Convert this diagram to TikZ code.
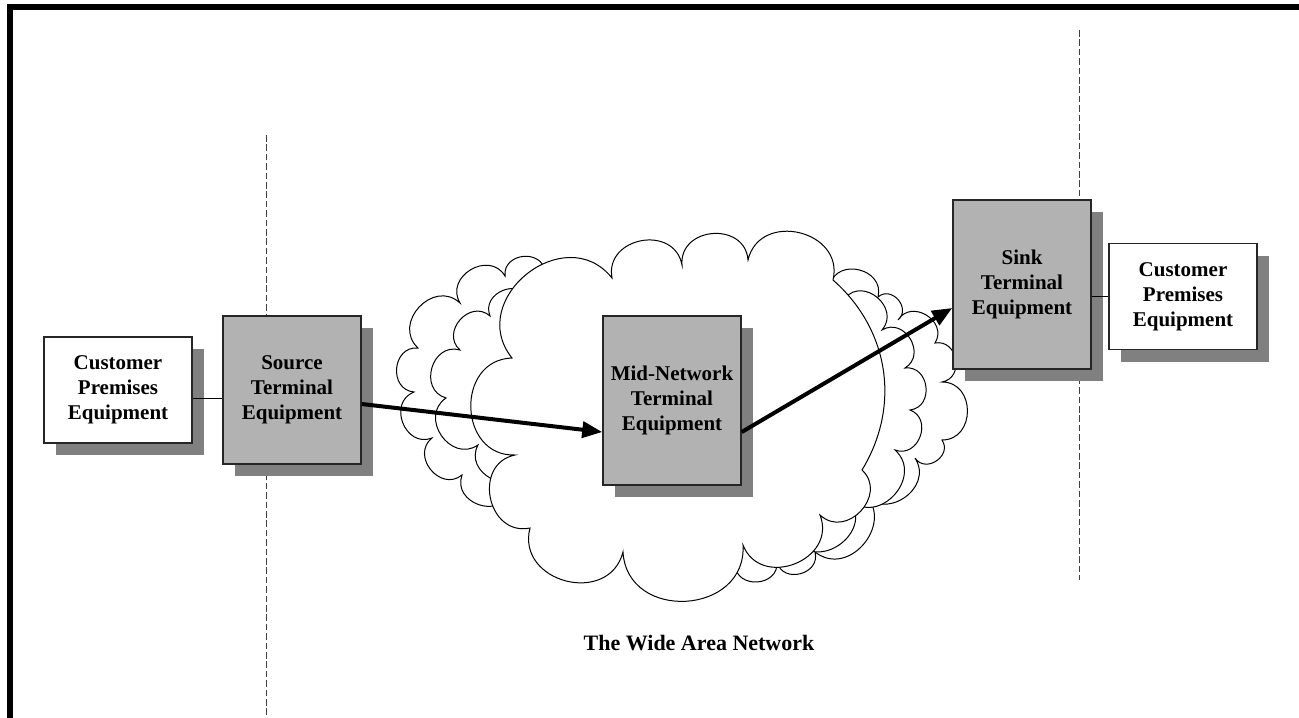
\documentclass[tikz,border=0pt]{standalone}
\usepackage{fontspec}
\setmainfont{Liberation Serif}
\usepackage{tikz}
\usetikzlibrary{arrows.meta,shadows}

\definecolor{boxgray}{gray}{0.70}
\definecolor{shadegray}{gray}{0.50}

\begin{document}
\begin{tikzpicture}[x=0.5pt, y=-0.5pt,
	every node/.style={font=\fontsize{10.5}{12.5}\selectfont\bfseries},
	box/.style={draw=black!85, line width=0.75pt, align=center, inner sep=0pt, general shadow={fill=shadegray, shadow xshift=6pt, shadow yshift=-6pt}},
	cpe/.style={box, fill=white, minimum width=74pt, minimum height=53pt},
	term/.style={box, fill=boxgray, minimum width=69pt},
	bump/.style={bend left=90, looseness=1.5},
	puff/.style={draw, fill=white, line width=0.5pt},
	link/.style={line width=2pt, -{Triangle[length=10pt,width=8pt]}},
	divider/.style={draw=black!75, line width=0.5pt, dash pattern=on 3.3pt off 1.4pt}]
	\useasboundingbox (0,0) rectangle (1299,717);
	\draw[line width=3pt] (10,720) -- (10,7) -- (1299,7);
	\draw[divider] (266,135) -- (266,717);
	\draw[divider] (1079,30) -- (1079,580);
	% the cloud, back layers first
	\draw[puff] (510,492) to[bump] (462,475) to[bump] (432,438) to[bump] (414,392) to[bump] (418,348) to[bump] (460,303) to[bump] (505,276) to[bump] (545,272) -- (580,330) -- (580,480) -- cycle;
	\draw[puff] (790,330) -- (830,285) to[bump] (878,297) to[bump] (898,320) to[bump] (935,343) to[bump] (942,382) to[bump] (942,440) to[bump] (915,458) to[bump] (862,492) to[bump] (815,552) to[bump] (777,562) to[bump] (735,565) -- (760,450) -- cycle;
	\draw[puff] (525,470) to[bump] (478,445) to[bump] (446,398) to[bump] (460,350) to[bump] (490,316) to[bump] (530,300) -- (580,350) -- (580,460) -- cycle;
	\draw[puff] (800,330) -- (845,298) to[bump] (882,330) to[bump] (905,368) to[bump] (910,410) to[bump] (895,450) to[bump] (850,500) to[bump] (795,540) -- (770,450) -- cycle;
	\draw[puff] (515,455) to[bump] (512,358) to[bump] (612,278) to[bump] (682,265) to[bump] (748,260) to[bump] (833,280) to[bend left=40] (862,470) to[bump] (820,515) to[bump] (743,545) to[bump] (623,552) to[bump] (530,528) to[bump] (515,455) -- cycle;
	\node[cpe] (cpeL) at (118,390) {Customer\\Premises\\Equipment};
	\node[term, minimum height=74pt] (src) at (292,390) {Source\\Terminal\\Equipment};
	\node[term, minimum height=84.5pt] (mid) at (672,400.5) {Mid-Network\\Terminal\\Equipment};
	\node[term, minimum height=84.5pt] (sink) at (1022,284.5) {Sink\\Terminal\\Equipment};
	\node[cpe] (cpeR) at (1183,296.5) {Customer\\Premises\\Equipment};
	\node[font=\fontsize{11}{13}\selectfont\bfseries] (wan) at (699,643) {The Wide Area Network};
	\draw[line width=0.5pt] ([yshift=-4pt]cpeL.east) -- ([yshift=-4pt]src.west);
	\draw[line width=0.5pt] (sink.east |- cpeR.west) -- (cpeR.west);
	\draw[link] ([yshift=-7pt]src.east) -- ([yshift=-15.75pt]mid.west);
	\draw[link] ([yshift=-15.75pt]mid.east) -- ([yshift=-11.75pt]sink.west);
\end{tikzpicture}
\end{document}
